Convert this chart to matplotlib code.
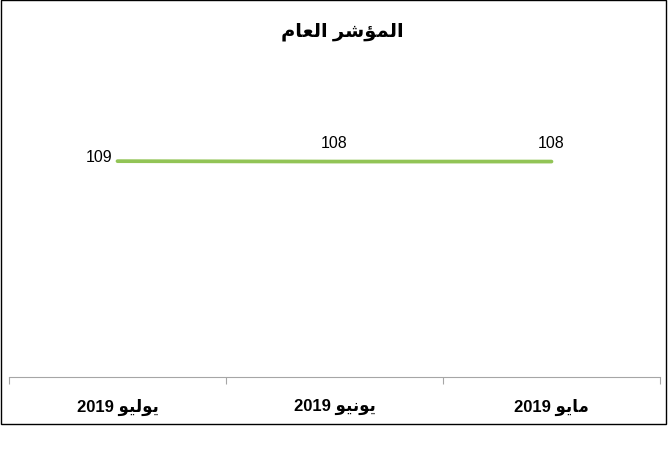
import matplotlib
matplotlib.use("Agg")
import matplotlib.pyplot as plt
from matplotlib.patches import Rectangle

# chronological order, drawn right to left
months = ["مايو", "يونيو", "يوليو"]
year = "2019"
values = [108.4, 108.4, 108.6]
labels = ["108", "108", "109"]
title = "المؤشر العام"

# minimal arabic shaping (presentation forms B), matplotlib has no bidi
FORMS = {
    "ا": (0xFE8D, 0xFE8E, None, None),
    "ل": (0xFEDD, 0xFEDE, 0xFEDF, 0xFEE0),
    "م": (0xFEE1, 0xFEE2, 0xFEE3, 0xFEE4),
    "ؤ": (0xFE85, 0xFE86, None, None),
    "ش": (0xFEB5, 0xFEB6, 0xFEB7, 0xFEB8),
    "ر": (0xFEAD, 0xFEAE, None, None),
    "ع": (0xFEC9, 0xFECA, 0xFECB, 0xFECC),
    "ي": (0xFEF1, 0xFEF2, 0xFEF3, 0xFEF4),
    "و": (0xFEED, 0xFEEE, None, None),
    "ن": (0xFEE5, 0xFEE6, 0xFEE7, 0xFEE8),
}


def shape(text):
    out = []
    for i, ch in enumerate(text):
        if ch not in FORMS:
            out.append(ch)
            continue
        f = FORMS[ch]
        prev = text[i - 1] if i > 0 else ""
        nxt = text[i + 1] if i + 1 < len(text) else ""
        join_prev = prev in FORMS and FORMS[prev][2] is not None
        join_next = nxt in FORMS and f[2] is not None
        if join_prev and join_next:
            code = f[3]
        elif join_prev:
            code = f[1]
        elif join_next:
            code = f[2]
        else:
            code = f[0]
        out.append(chr(code))
    return "".join(out)[::-1]


plt.rcParams["font.family"] = ["Liberation Sans", "DejaVu Sans"]

fig = plt.figure(figsize=(6.68, 4.56), dpi=100)
fig.patches.append(Rectangle((0.0015, 1 - 425 / 456), 0.996, 425 / 456 - 0.002,
                             transform=fig.transFigure, fill=False,
                             edgecolor="black", linewidth=1))

ax = fig.add_axes([9 / 668, 1 - 378 / 456, 651 / 668, 318 / 456])
x = list(range(len(months)))
ax.plot(x, values, color="#92C456", linewidth=2.7, solid_capstyle="round")

ax.set_xlim(2.5, -0.5)
ax.set_ylim(0, 160)

for xi, v, lab in zip(x, values, labels):
    if xi == 2:
        ax.annotate(lab, (xi, v), xytext=(-4, 3), textcoords="offset points",
                    ha="right", va="center", fontsize=11.5)
    else:
        ax.annotate(lab, (xi, v), xytext=(0, 8), textcoords="offset points",
                    ha="center", va="bottom", fontsize=11.5)

for s in ["top", "left", "right"]:
    ax.spines[s].set_visible(False)
ax.spines["bottom"].set_color("#A6A6A6")
ax.set_yticks([])
ax.set_xticks([-0.5, 0.5, 1.5, 2.5])
ax.set_xticklabels([])
ax.tick_params(axis="x", which="major", length=5, color="#A6A6A6")
ax.set_xticks(x, minor=True)
ax.set_xticklabels([year + " " + shape(m) for m in months], minor=True,
                   fontsize=12, fontweight="bold")
ax.tick_params(axis="x", which="minor", length=0, pad=15)

fig.text(0.513, 1 - 32 / 456, shape(title), ha="center", va="center",
         fontsize=14, fontweight="bold")

fig.savefig("out.png", dpi=100)
